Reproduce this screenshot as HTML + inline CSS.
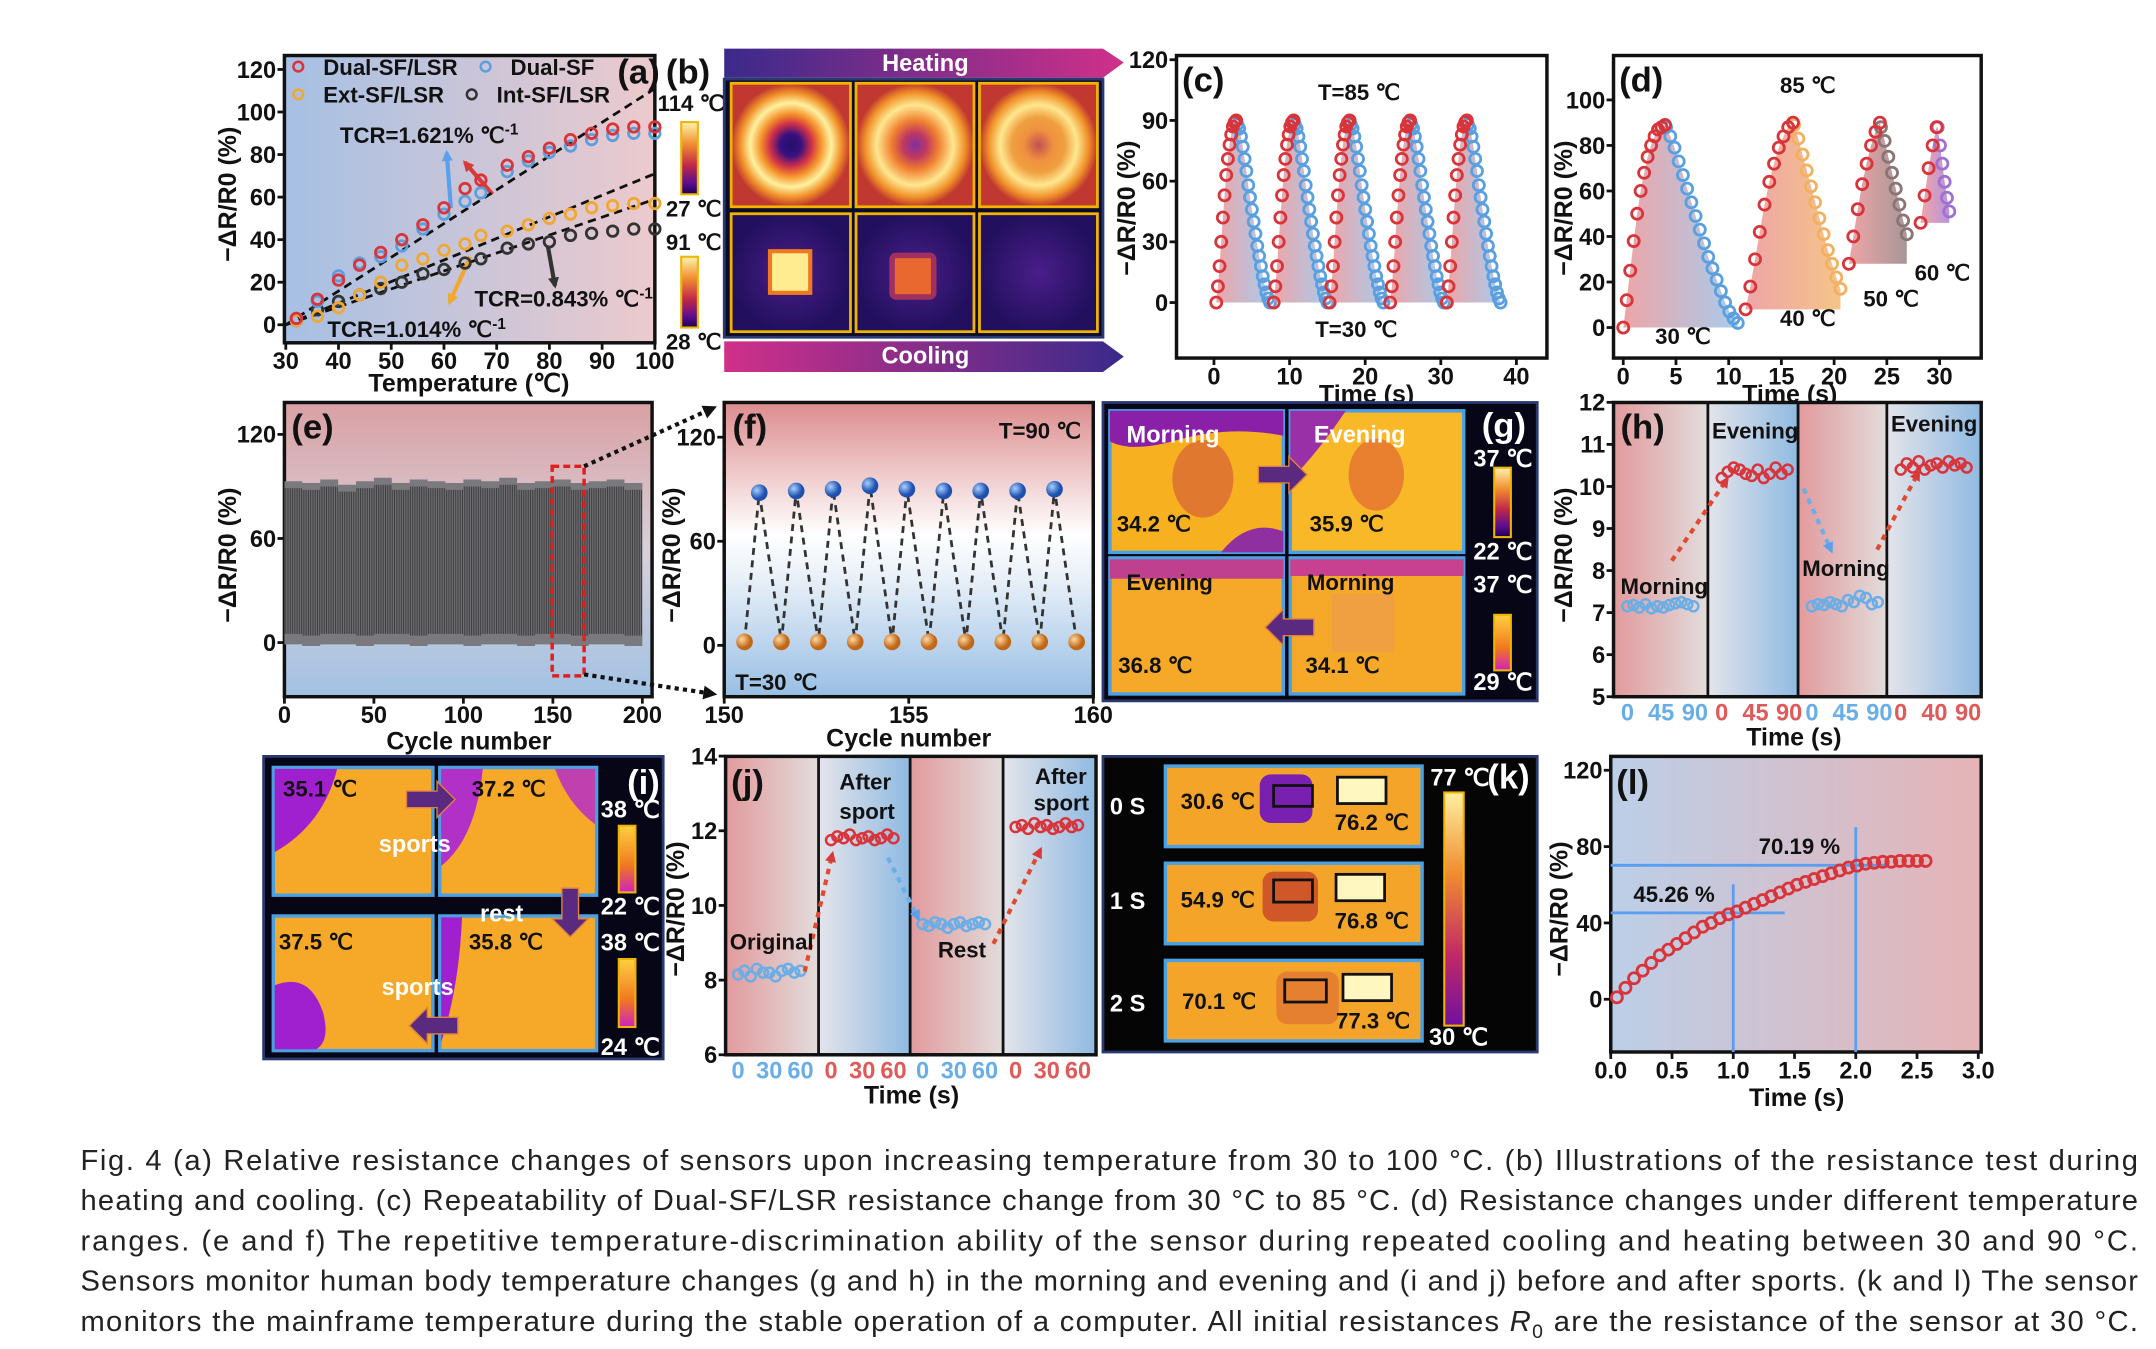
<!DOCTYPE html>
<html><head><meta charset="utf-8"><style>
html,body{margin:0;padding:0;background:#fff;}
svg{display:block;}
text{font-family:"Liberation Sans",sans-serif;}
.tk{font-size:17px;font-weight:bold;fill:#111;}
.ti{font-size:18px;font-weight:bold;fill:#111;}
.pl{font-size:25px;font-weight:bold;fill:#111;}
.lb{font-size:16px;font-weight:bold;fill:#111;}
.wl{font-size:17px;font-weight:bold;fill:#fff;}
.cap{font-size:21px;fill:#222;}
</style></head><body>
<svg id="fig" xmlns="http://www.w3.org/2000/svg" width="2156" height="1349" viewBox="0 0 1554 972" preserveAspectRatio="none">
<defs>
 <linearGradient id="gA" x1="0" x2="1" y1="0" y2="0"><stop offset="0" stop-color="#a6c0e4"/><stop offset="1" stop-color="#eccacd"/></linearGradient>
 <linearGradient id="gL" x1="0" x2="1" y1="0" y2="0"><stop offset="0" stop-color="#bccfe8"/><stop offset="1" stop-color="#e6b3b6"/></linearGradient>
 <linearGradient id="gE" x1="0" x2="0" y1="0" y2="1"><stop offset="0" stop-color="#d9a0a4"/><stop offset="0.5" stop-color="#d8d0d8"/><stop offset="1" stop-color="#a2c2e4"/></linearGradient>
 <linearGradient id="gF" x1="0" x2="0" y1="0" y2="1"><stop offset="0" stop-color="#dc8c8e"/><stop offset="0.45" stop-color="#ffffff"/><stop offset="0.6" stop-color="#e8f0f8"/><stop offset="1" stop-color="#98bee4"/></linearGradient>
 <linearGradient id="gPink" x1="0" x2="1"><stop offset="0" stop-color="#e29a9c"/><stop offset="1" stop-color="#e2dcdc"/></linearGradient>
 <linearGradient id="gBlue" x1="0" x2="1"><stop offset="0" stop-color="#e4e4ea"/><stop offset="1" stop-color="#8fbae2"/></linearGradient>
 <linearGradient id="gFill" x1="0" x2="1"><stop offset="0" stop-color="#e8878a" stop-opacity="0.75"/><stop offset="1" stop-color="#86b4e2" stop-opacity="0.7"/></linearGradient>
 <linearGradient id="gFillO" x1="0" x2="1"><stop offset="0" stop-color="#e8878a" stop-opacity="0.75"/><stop offset="1" stop-color="#f2b060" stop-opacity="0.75"/></linearGradient>
 <linearGradient id="gFillG" x1="0" x2="1"><stop offset="0" stop-color="#e8878a" stop-opacity="0.75"/><stop offset="1" stop-color="#8a7474" stop-opacity="0.75"/></linearGradient>
 <linearGradient id="gFillP" x1="0" x2="1"><stop offset="0" stop-color="#e8878a" stop-opacity="0.75"/><stop offset="1" stop-color="#a070d0" stop-opacity="0.75"/></linearGradient>
 <linearGradient id="gHeat" x1="0" x2="1"><stop offset="0" stop-color="#3a2a8a"/><stop offset="1" stop-color="#d0308a"/></linearGradient>
 <linearGradient id="gCool" x1="0" x2="1"><stop offset="0" stop-color="#d0308a"/><stop offset="1" stop-color="#3a2a8a"/></linearGradient>
 <linearGradient id="gCB" x1="0" x2="0" y1="0" y2="1"><stop offset="0" stop-color="#fff4b0"/><stop offset="0.3" stop-color="#f09030"/><stop offset="0.6" stop-color="#c02848"/><stop offset="0.85" stop-color="#5a0c90"/><stop offset="1" stop-color="#1a0050"/></linearGradient>
 <linearGradient id="gCB2" x1="0" x2="0" y1="0" y2="1"><stop offset="0" stop-color="#ffd040"/><stop offset="0.6" stop-color="#f07820"/><stop offset="1" stop-color="#d020c0"/></linearGradient>
 <linearGradient id="gCBk" x1="0" x2="0" y1="0" y2="1"><stop offset="0" stop-color="#fff0a0"/><stop offset="0.35" stop-color="#f08c30"/><stop offset="0.7" stop-color="#c02868"/><stop offset="1" stop-color="#7010a0"/></linearGradient>
 <radialGradient id="rOval1"><stop offset="0" stop-color="#20106a"/><stop offset="0.18" stop-color="#3a1080"/><stop offset="0.35" stop-color="#d03048"/><stop offset="0.5" stop-color="#f49028"/><stop offset="0.68" stop-color="#fff2a0"/><stop offset="0.85" stop-color="#f09028"/><stop offset="1" stop-color="#c03830"/></radialGradient>
 <radialGradient id="rOval2"><stop offset="0" stop-color="#8030a0"/><stop offset="0.2" stop-color="#c03860"/><stop offset="0.4" stop-color="#f08030"/><stop offset="0.65" stop-color="#ffe890"/><stop offset="0.85" stop-color="#f09028"/><stop offset="1" stop-color="#c03830"/></radialGradient>
 <radialGradient id="rOval3"><stop offset="0" stop-color="#c05050"/><stop offset="0.25" stop-color="#f09040"/><stop offset="0.45" stop-color="#f0a040"/><stop offset="0.65" stop-color="#ffe890"/><stop offset="0.85" stop-color="#f09028"/><stop offset="1" stop-color="#c03830"/></radialGradient>
 <radialGradient id="rDark"><stop offset="0" stop-color="#4a1e8a"/><stop offset="1" stop-color="#22105e"/></radialGradient>
 <radialGradient id="rBlue" cx="0.35" cy="0.35"><stop offset="0" stop-color="#a8d0ff"/><stop offset="1" stop-color="#1e50b0"/></radialGradient>
 <radialGradient id="rOr" cx="0.35" cy="0.35"><stop offset="0" stop-color="#ffd8a0"/><stop offset="1" stop-color="#c06818"/></radialGradient>
 <marker id="mR" markerWidth="8" markerHeight="8" refX="6" refY="4" orient="auto" markerUnits="userSpaceOnUse"><path d="M0,0 L8,4 L0,8 Z" fill="#d83a3a"/></marker>
 <marker id="mB" markerWidth="8" markerHeight="8" refX="6" refY="4" orient="auto" markerUnits="userSpaceOnUse"><path d="M0,0 L8,4 L0,8 Z" fill="#5aa0ec"/></marker>
 <marker id="mO" markerWidth="8" markerHeight="8" refX="6" refY="4" orient="auto" markerUnits="userSpaceOnUse"><path d="M0,0 L8,4 L0,8 Z" fill="#f0a830"/></marker>
 <marker id="mK" markerWidth="8" markerHeight="8" refX="6" refY="4" orient="auto" markerUnits="userSpaceOnUse"><path d="M0,0 L8,4 L0,8 Z" fill="#333"/></marker>
 <marker id="mD" markerWidth="10" markerHeight="10" refX="7" refY="5" orient="auto" markerUnits="userSpaceOnUse"><path d="M0,0 L10,5 L0,10 Z" fill="#111"/></marker>
</defs>

<g id="pa">
 <rect x="205" y="40" width="267" height="207" fill="url(#gA)" stroke="#111" stroke-width="2.5"/>
 <text x="170" y="140" class="ti" transform="rotate(-90 170 140)" text-anchor="middle">−ΔR/R0 (%)</text>
 <text x="338" y="282" class="ti" text-anchor="middle">Temperature (℃)</text>
 <text x="445" y="60" class="pl">(a)</text>
 <g class="lb">
  <circle cx="215" cy="48" r="3.5" fill="none" stroke="#d8343a" stroke-width="1.8"/><text x="233" y="54">Dual-SF/LSR</text>
  <circle cx="350" cy="48" r="3.5" fill="none" stroke="#5aa0e0" stroke-width="1.8"/><text x="368" y="54">Dual-SF</text>
  <circle cx="215" cy="68" r="3.5" fill="none" stroke="#f0a830" stroke-width="1.8"/><text x="233" y="74">Ext-SF/LSR</text>
  <circle cx="340" cy="68" r="3.5" fill="none" stroke="#333" stroke-width="1.8"/><text x="358" y="74">Int-SF/LSR</text>
 </g>
 <text x="245" y="103" class="lb">TCR=1.621% ℃<tspan dy="-6" font-size="11">-1</tspan></text>
 <text x="342" y="221" class="lb">TCR=0.843% ℃<tspan dy="-6" font-size="11">-1</tspan></text>
 <text x="236" y="243" class="lb">TCR=1.014% ℃<tspan dy="-6" font-size="11">-1</tspan></text>
 <line x1="325" y1="150" x2="322" y2="110" stroke="#5aa0ec" stroke-width="3" marker-end="url(#mB)"/>
 <line x1="355" y1="140" x2="335" y2="117" stroke="#d83a3a" stroke-width="3" marker-end="url(#mR)"/>
 <line x1="339" y1="185" x2="324" y2="218" stroke="#f0a830" stroke-width="3" marker-end="url(#mO)"/>
 <line x1="395" y1="178" x2="400" y2="206" stroke="#333" stroke-width="3" marker-end="url(#mK)"/>
 <g id="aMarks"></g>
</g>

<g>
 <path d="M522,35 L795,35 L810,45 L795,56 L522,56 Z" fill="url(#gHeat)"/>
 <text x="667" y="51" text-anchor="middle" class="wl" font-size="15">Heating</text>
 <path d="M522,246 L795,246 L810,257 L795,268 L522,268 Z" fill="url(#gCool)"/>
 <text x="667" y="262" text-anchor="middle" class="wl" font-size="15">Cooling</text>
 <rect x="522" y="57" width="273" height="186" fill="#0a0a2a" stroke="#2a3a70" stroke-width="2"/>
 <rect x="527" y="60" width="86" height="89" fill="url(#rOval1)" stroke="#f0b400" stroke-width="2"/>
 <rect x="617" y="60" width="85" height="89" fill="url(#rOval2)" stroke="#f0b400" stroke-width="2"/>
 <rect x="706" y="60" width="85" height="89" fill="url(#rOval3)" stroke="#f0b400" stroke-width="2"/>
 <rect x="527" y="154" width="86" height="85" fill="url(#rDark)" stroke="#f0b400" stroke-width="2"/>
 <rect x="555" y="181" width="29" height="30" fill="#ffec90" stroke="#f07820" stroke-width="3"/>
 <rect x="617" y="154" width="85" height="85" fill="url(#rDark)" stroke="#f0b400" stroke-width="2"/>
 <rect x="643" y="184" width="30" height="30" fill="#e86830" stroke="#a03060" stroke-width="4" rx="3"/>
 <rect x="706" y="154" width="85" height="85" fill="url(#rDark)" stroke="#f0b400" stroke-width="2"/>
 <rect x="491" y="88" width="12" height="52" fill="url(#gCB)" stroke="#f0b400" stroke-width="1.5"/>
 <rect x="491" y="185" width="12" height="51" fill="url(#gCB)" stroke="#f0b400" stroke-width="1.5"/>
 <text x="474" y="80" class="lb" font-size="15">114 ℃</text>
 <text x="480" y="156" class="lb" font-size="15">27 ℃</text>
 <text x="480" y="180" class="lb" font-size="15">91 ℃</text>
 <text x="480" y="252" class="lb" font-size="15">28 ℃</text>
 <text x="480" y="60" class="pl">(b)</text>
</g>

<g>
 <rect x="848" y="40" width="267" height="218" fill="#fff" stroke="#111" stroke-width="2.5"/>
 <g id="cMarks"></g>
 <text x="852" y="66" class="pl">(c)</text>
 <text x="950" y="72" class="lb">T=85 ℃</text>
 <text x="948" y="243" class="lb">T=30 ℃</text>
 <text x="818" y="150" class="ti" transform="rotate(-90 818 150)" text-anchor="middle">−ΔR/R0 (%)</text>
 <text x="985" y="290" class="ti" text-anchor="middle">Time (s)</text>
</g>

<g>
 <rect x="1163" y="40" width="265" height="218" fill="#fff" stroke="#111" stroke-width="2.5"/>
 <g id="dMarks"></g>
 <text x="1167" y="66" class="pl">(d)</text>
 <text x="1283" y="67" class="lb">85 ℃</text>
 <text x="1193" y="248" class="lb">30 ℃</text>
 <text x="1283" y="235" class="lb">40 ℃</text>
 <text x="1343" y="221" class="lb">50 ℃</text>
 <text x="1380" y="202" class="lb">60 ℃</text>
 <text x="1133" y="150" class="ti" transform="rotate(-90 1133 150)" text-anchor="middle">−ΔR/R0 (%)</text>
 <text x="1290" y="290" class="ti" text-anchor="middle">Time (s)</text>
</g>

<g>
 <rect x="205" y="290" width="265" height="212" fill="url(#gE)" stroke="#111" stroke-width="2.5"/>
 <g id="eMarks"></g>
 <rect x="398" y="336" width="23" height="151" fill="none" stroke="#e02020" stroke-width="2.5" stroke-dasharray="5,3"/>
 <line x1="421" y1="336" x2="514" y2="294" stroke="#111" stroke-width="3" stroke-dasharray="3,3" marker-end="url(#mD)"/>
 <line x1="421" y1="486" x2="514" y2="500" stroke="#111" stroke-width="3" stroke-dasharray="3,3" marker-end="url(#mD)"/>
 <text x="210" y="316" class="pl">(e)</text>
 <text x="170" y="400" class="ti" transform="rotate(-90 170 400)" text-anchor="middle">−ΔR/R0 (%)</text>
 <text x="338" y="540" class="ti" text-anchor="middle">Cycle number</text>
</g>

<g>
 <rect x="522" y="290" width="266" height="212" fill="url(#gF)" stroke="#111" stroke-width="2.5"/>
 <g id="fMarks"></g>
 <text x="528" y="316" class="pl">(f)</text>
 <text x="720" y="316" class="lb">T=90 ℃</text>
 <text x="530" y="497" class="lb">T=30 ℃</text>
 <text x="490" y="400" class="ti" transform="rotate(-90 490 400)" text-anchor="middle">−ΔR/R0 (%)</text>
 <text x="655" y="538" class="ti" text-anchor="middle">Cycle number</text>
</g>

<g>
 <rect x="795" y="290" width="313" height="215" fill="#060616" stroke="#2a3a70" stroke-width="2"/>
 <rect x="800" y="296" width="125" height="102" fill="#f6b020" stroke="#4aa0e0" stroke-width="2.5"/>
 <path d="M800,296 h125 v18 q-40,-8 -80,4 q-30,8 -45,0 z" fill="#8a20a8"/>
 <ellipse cx="867" cy="345" rx="22" ry="28" fill="#e07830"/>
 <path d="M880,398 q20,-25 45,-15 v15 z" fill="#9030a0"/>
 <rect x="930" y="296" width="125" height="102" fill="#f8b828" stroke="#4aa0e0" stroke-width="2.5"/>
 <path d="M930,296 h40 q-20,30 -40,50 z" fill="#9a30a8"/>
 <ellipse cx="992" cy="342" rx="20" ry="26" fill="#e88030"/>
 <rect x="800" y="402" width="125" height="98" fill="#f6a828" stroke="#4aa0e0" stroke-width="2.5"/>
 <rect x="800" y="403" width="125" height="14" fill="#c04090"/>
 <rect x="930" y="402" width="125" height="98" fill="#f6a828" stroke="#4aa0e0" stroke-width="2.5"/>
 <rect x="930" y="403" width="125" height="12" fill="#c84090"/>
 <rect x="960" y="428" width="45" height="42" fill="#f0a040"/>
 <path d="M907,336 h22 v-7 l13,13 l-13,13 v-7 h-22 z" fill="#5a2a80" stroke="#e08040" stroke-width="1"/>
 <path d="M947,446 h-22 v-7 l-13,13 l13,13 v-7 h22 z" fill="#5a2a80" stroke="#e08040" stroke-width="1"/>
 <text x="812" y="319" class="wl">Morning</text><text x="947" y="319" class="wl">Evening</text>
 <text x="812" y="425" class="lb" font-size="17">Evening</text><text x="942" y="425" class="lb" font-size="17">Morning</text>
 <text x="805" y="383" class="lb" font-size="16">34.2 ℃</text><text x="944" y="383" class="lb" font-size="16">35.9 ℃</text>
 <text x="806" y="485" class="lb" font-size="16">36.8 ℃</text><text x="941" y="485" class="lb" font-size="16">34.1 ℃</text>
 <rect x="1077" y="337" width="12" height="50" fill="url(#gCB)" stroke="#f0b400" stroke-width="1.5"/>
 <rect x="1077" y="443" width="12" height="40" fill="url(#gCB2)" stroke="#f0b400" stroke-width="1.5"/>
 <text x="1062" y="336" class="wl" font-size="15">37 ℃</text><text x="1062" y="403" class="wl" font-size="15">22 ℃</text>
 <text x="1062" y="427" class="wl" font-size="15">37 ℃</text><text x="1062" y="497" class="wl" font-size="15">29 ℃</text>
 <text x="1068" y="315" class="pl" style="fill:#fff">(g)</text>
</g>

<g>
 <rect x="1163" y="290" width="68" height="212" fill="url(#gPink)"/>
 <rect x="1231" y="290" width="65" height="212" fill="url(#gBlue)"/>
 <rect x="1296" y="290" width="64" height="212" fill="url(#gPink)"/>
 <rect x="1360" y="290" width="68" height="212" fill="url(#gBlue)"/>
 <g stroke="#111" stroke-width="2"><line x1="1231" y1="290" x2="1231" y2="502"/><line x1="1296" y1="290" x2="1296" y2="502"/><line x1="1360" y1="290" x2="1360" y2="502"/></g>
 <rect x="1163" y="290" width="265" height="212" fill="none" stroke="#111" stroke-width="2.5"/>
 <g id="hMarks"></g>
 <line x1="1205" y1="404" x2="1245" y2="345" stroke="#e04a30" stroke-width="3" stroke-dasharray="4,4" marker-end="url(#mR)"/>
 <line x1="1300" y1="352" x2="1320" y2="397" stroke="#6aaee8" stroke-width="3" stroke-dasharray="4,4" marker-end="url(#mB)"/>
 <line x1="1353" y1="396" x2="1383" y2="340" stroke="#e04a30" stroke-width="3" stroke-dasharray="4,4" marker-end="url(#mR)"/>
 <text x="1168" y="316" class="pl">(h)</text>
 <text x="1168" y="428" class="lb" font-size="15">Morning</text>
 <text x="1234" y="316" class="lb" font-size="15">Evening</text>
 <text x="1299" y="415" class="lb" font-size="15">Morning</text>
 <text x="1363" y="311" class="lb" font-size="15">Evening</text>
 <text x="1133" y="400" class="ti" transform="rotate(-90 1133 400)" text-anchor="middle">−ΔR/R0 (%)</text>
 <text x="1293" y="537" class="ti" text-anchor="middle">Time (s)</text>
</g>

<g>
 <rect x="190" y="545" width="288" height="218" fill="#060616" stroke="#2a3a70" stroke-width="2"/>
 <rect x="197" y="553" width="115" height="92" fill="#f6a828" stroke="#4aa0e0" stroke-width="2.5"/>
 <path d="M198,554 h45 q-10,40 -45,60 z" fill="#a020d0"/>
 <rect x="317" y="553" width="113" height="92" fill="#f6a828" stroke="#4aa0e0" stroke-width="2.5"/>
 <path d="M318,554 h30 q-5,50 -30,70 z" fill="#b030c8"/>
 <path d="M400,554 h29 v40 q-20,-15 -29,-40 z" fill="#c040b0"/>
 <rect x="197" y="660" width="115" height="97" fill="#f6a828" stroke="#4aa0e0" stroke-width="2.5"/>
 <path d="M198,710 q25,-10 35,20 q5,20 -5,26 h-30 z" fill="#a020d0"/>
 <rect x="317" y="660" width="113" height="97" fill="#f6a828" stroke="#4aa0e0" stroke-width="2.5"/>
 <path d="M318,661 h15 q-2,50 -15,90 z" fill="#a020d0"/>
 <path d="M293,570 h22 v-7 l13,13 l-13,13 v-7 h-22 z" fill="#5a2a80" stroke="#e08040" stroke-width="1"/>
 <path d="M405,640 v22 h-7 l13,13 l13,-13 h-7 v-22 z" fill="#5a2a80" stroke="#e08040" stroke-width="1"/>
 <path d="M330,733 h-22 v-7 l-13,13 l13,13 v-7 h22 z" fill="#5a2a80" stroke="#e08040" stroke-width="1"/>
 <text x="204" y="574" class="lb">35.1 ℃</text><text x="340" y="574" class="lb">37.2 ℃</text>
 <text x="201" y="684" class="lb">37.5 ℃</text><text x="338" y="684" class="lb">35.8 ℃</text>
 <text x="273" y="614" class="wl" font-size="22">sports</text>
 <text x="275" y="717" class="wl" font-size="22">sports</text>
 <text x="346" y="664" class="wl" font-size="22">rest</text>
 <rect x="446" y="595" width="12" height="48" fill="url(#gCB2)" stroke="#f0b400" stroke-width="1.5"/>
 <rect x="446" y="691" width="12" height="49" fill="url(#gCB2)" stroke="#f0b400" stroke-width="1.5"/>
 <text x="433" y="589" class="wl" font-size="15">38 ℃</text><text x="433" y="659" class="wl" font-size="15">22 ℃</text>
 <text x="433" y="685" class="wl" font-size="15">38 ℃</text><text x="433" y="760" class="wl" font-size="15">24 ℃</text>
 <text x="452" y="572" class="pl" style="fill:#fff">(i)</text>
</g>

<g>
 <rect x="523" y="545" width="67" height="215" fill="url(#gPink)"/>
 <rect x="590" y="545" width="66" height="215" fill="url(#gBlue)"/>
 <rect x="656" y="545" width="67" height="215" fill="url(#gPink)"/>
 <rect x="723" y="545" width="67" height="215" fill="url(#gBlue)"/>
 <g stroke="#111" stroke-width="2"><line x1="590" y1="545" x2="590" y2="760"/><line x1="656" y1="545" x2="656" y2="760"/><line x1="723" y1="545" x2="723" y2="760"/></g>
 <rect x="523" y="545" width="267" height="215" fill="none" stroke="#111" stroke-width="2.5"/>
 <g id="jMarks"></g>
 <line x1="580" y1="700" x2="600" y2="615" stroke="#e04a30" stroke-width="3" stroke-dasharray="4,4" marker-end="url(#mR)"/>
 <line x1="640" y1="618" x2="662" y2="662" stroke="#6aaee8" stroke-width="3" stroke-dasharray="4,4" marker-end="url(#mB)"/>
 <line x1="716" y1="680" x2="750" y2="612" stroke="#e04a30" stroke-width="3" stroke-dasharray="4,4" marker-end="url(#mR)"/>
 <text x="527" y="572" class="pl">(j)</text>
 <text x="605" y="569" class="lb" font-size="15">After</text><text x="605" y="590" class="lb" font-size="15">sport</text>
 <text x="746" y="565" class="lb" font-size="15">After</text><text x="745" y="584" class="lb" font-size="15">sport</text>
 <text x="526" y="684" class="lb" font-size="15">Original</text>
 <text x="676" y="690" class="lb" font-size="15">Rest</text>
 <text x="493" y="655" class="ti" transform="rotate(-90 493 655)" text-anchor="middle">−ΔR/R0 (%)</text>
 <text x="657" y="795" class="ti" text-anchor="middle">Time (s)</text>
</g>

<g>
 <rect x="795" y="545" width="313" height="213" fill="#050505" stroke="#2a3a70" stroke-width="2"/>
 <rect x="840" y="552" width="185" height="58" fill="#f4a428" stroke="#4aa0e0" stroke-width="2.5"/>
 <rect x="908" y="558" width="38" height="35" rx="8" fill="#7a20b0"/><rect x="918" y="566" width="28" height="15" fill="none" stroke="#111" stroke-width="2"/>
 <rect x="964" y="560" width="35" height="19" fill="#fff6c0" stroke="#111" stroke-width="2"/>
 <rect x="840" y="622" width="185" height="58" fill="#f4a428" stroke="#4aa0e0" stroke-width="2.5"/>
 <rect x="910" y="628" width="40" height="36" rx="8" fill="#d05828"/><rect x="918" y="634" width="28" height="16" fill="none" stroke="#111" stroke-width="2"/>
 <rect x="963" y="630" width="35" height="19" fill="#fff6c0" stroke="#111" stroke-width="2"/>
 <rect x="840" y="692" width="185" height="58" fill="#f4a428" stroke="#4aa0e0" stroke-width="2.5"/>
 <rect x="920" y="700" width="45" height="38" rx="8" fill="#e48030"/><rect x="926" y="706" width="30" height="16" fill="none" stroke="#111" stroke-width="2"/>
 <rect x="968" y="702" width="35" height="19" fill="#fff6c0" stroke="#111" stroke-width="2"/>
 <text x="800" y="587" class="wl" font-size="19">0 S</text><text x="800" y="655" class="wl" font-size="19">1 S</text><text x="800" y="729" class="wl" font-size="19">2 S</text>
 <text x="851" y="583" class="lb">30.6 ℃</text><text x="962" y="598" class="lb">76.2 ℃</text>
 <text x="851" y="654" class="lb">54.9 ℃</text><text x="962" y="669" class="lb">76.8 ℃</text>
 <text x="852" y="727" class="lb">70.1 ℃</text><text x="963" y="741" class="lb">77.3 ℃</text>
 <rect x="1041" y="571" width="14" height="168" fill="url(#gCBk)" stroke="#f0b400" stroke-width="1.5"/>
 <text x="1031" y="566" class="wl" font-size="15">77 ℃</text><text x="1030" y="753" class="wl" font-size="15">30 ℃</text>
 <text x="1072" y="568" class="pl" style="fill:#fff">(k)</text>
</g>

<g>
 <rect x="1161" y="545" width="267" height="213" fill="url(#gL)" stroke="#111" stroke-width="2.5"/>
 <g id="lMarks"></g>
 <text x="1165" y="572" class="pl">(l)</text>
 <text x="1130" y="655" class="ti" transform="rotate(-90 1130 655)" text-anchor="middle">−ΔR/R0 (%)</text>
 <text x="1295" y="797" class="ti" text-anchor="middle">Time (s)</text>
</g>

<g>
 <text class="cap" x="58" y="843" textLength="1483" lengthAdjust="spacing">Fig. 4   (a) Relative resistance changes of sensors upon increasing temperature from 30 to 100 °C. (b) Illustrations of the resistance test during</text>
 <text class="cap" x="58" y="872" textLength="1483" lengthAdjust="spacing">heating and cooling. (c) Repeatability of Dual-SF/LSR resistance change from 30 °C to 85 °C. (d) Resistance changes under different temperature</text>
 <text class="cap" x="58" y="901" textLength="1483" lengthAdjust="spacing">ranges. (e and f) The repetitive temperature-discrimination ability of the sensor during repeated cooling and heating between 30 and 90 °C.</text>
 <text class="cap" x="58" y="930" textLength="1483" lengthAdjust="spacing">Sensors monitor human body temperature changes (g and h) in the morning and evening and (i and j) before and after sports. (k and l) The sensor</text>
 <text class="cap" x="58" y="959" textLength="1483" lengthAdjust="spacing">monitors the mainframe temperature during the stable operation of a computer. All initial resistances <tspan font-style="italic">R</tspan><tspan font-size="14" dy="5">0</tspan><tspan dy="-5"> are the resistance of the sensor at 30 °C.</tspan></text>
 <rect x="58" y="976" width="1483" height="4" fill="#e2dfd6"/>
</g>
</svg>

<script>
const NS='http://www.w3.org/2000/svg';
const aTemps=[32,36,40,44,48,52,56,60,64,67,72,76,80,84,88,92,96,100];
const aDualLSR=[3,12,21,28,34,40,47,55,64,68,75,79,83,87,90,92,93,93];
const aDualSF=[3,11,23,29,32,37,45,52,58,62,72,77,81,84,87,89,90,90];
const aExt=[2,4,8,14,20,28,31,35,38,42,44,47,50,52,55,56,57,57];
const aInt=[2,7,11,14,17,20,24,26,29,31,36,38,39,42,43,44,45,45];
const aFitEnd=[111,71,59];
const aXTicks=[30,40,50,60,70,80,90,100];
const aYTicks=[0,20,40,60,80,100,120];

const cStarts=[0.3,7.9,15.3,23.3,30.8];
const cRise=[0,8,18,30,42,53,63,71,78,83,87,89,90];
const cFall=[88,86,82,77,71,65,58,52,46,40,34,28,23,18,13,9,5,2,0];
const cXTicks=[0,10,20,30,40];
const cYTicks=[0,30,60,90,120];

const dStarts=[0,11.6,21.4,28.2];
const dRise1=[0,12,25,38,50,60,68,75,80,84,87,88,89];
const dRise2=[8,18,30,42,54,64,72,79,84,88,90];
const dRise3=[28,40,52,63,72,80,86,90];
const dRise4=[46,58,70,80,88];
const dFall1=[88,84,79,73,67,61,55,49,43,37,31,26,21,16,11,7,4,2];
const dFall2=[89,83,76,69,62,55,48,41,34,28,22,17];
const dFall3=[88,82,75,68,61,54,47,41];
const dFall4=[88,80,72,64,57,51];
const dRiseDt=[0.33,0.45,0.42,0.38];
const dFallDt=[0.4,0.4,0.35,0.22];
const dXTicks=[0,5,10,15,20,25,30];
const dYTicks=[0,20,40,60,80,100];

const ePeaks=[93,92,94,91,93,95,92,94,93,92,94,93,95,92,93,94,92,93,94,92];
const eTroughs=[-1,-2,-1,-1,-2,-1,-1,-2,-1,-1,-2,-1,-1,-2,-1,-1,-2,-1,-1,-2];
const eXTicks=[0,50,100,150,200];
const eYTicks=[0,60,120];

const fHeatX=[150.95,151.95,152.95,153.95,154.95,155.95,156.95,157.95,158.95];
const fHeatV=[88,89,90,92,90,89,89,89,90];
const fCoolX=[150.55,151.55,152.55,153.55,154.55,155.55,156.55,157.55,158.55,159.55];
const fCoolV=[2,2,2,2,2,2,2,2,2,2];
const fXTicks=[150,155,160];
const fYTicks=[0,60,120];

const hTimes=[0,8,16,24,32,40,48,56,64,72,80,88];
const hMorning1=[7.15,7.18,7.12,7.2,7.1,7.15,7.12,7.18,7.22,7.25,7.2,7.15];
const hEvening1=[10.2,10.35,10.45,10.4,10.3,10.25,10.4,10.2,10.3,10.45,10.3,10.4];
const hMorning2=[7.15,7.2,7.18,7.25,7.2,7.15,7.3,7.25,7.4,7.35,7.2,7.25];
const hEvening2=[10.4,10.55,10.45,10.6,10.4,10.5,10.55,10.45,10.6,10.5,10.55,10.45];
const hYTicks=[5,6,7,8,9,10,11,12];
const hXTicks=['0','45','90','0','45','90','0','45','90','0','40','90'];

const jTimes=[0,6,12,18,24,30,36,42,48,54,60];
const jOriginal=[8.15,8.25,8.1,8.3,8.2,8.2,8.1,8.25,8.3,8.2,8.25];
const jAfter1=[11.75,11.85,11.8,11.9,11.75,11.8,11.85,11.75,11.8,11.9,11.8];
const jRest=[9.5,9.45,9.55,9.5,9.4,9.5,9.55,9.45,9.5,9.55,9.5];
const jAfter2=[12.1,12.15,12.05,12.2,12.1,12.15,12.05,12.1,12.2,12.1,12.15];
const jYTicks=[6,8,10,12,14];
const jXTicks=['0','30','60','0','30','60','0','30','60','0','30','60'];

const lTimes=[0.05,0.12,0.19,0.26,0.33,0.40,0.47,0.54,0.61,0.68,0.75,0.82,0.89,0.96,1.03,1.10,1.17,1.24,1.31,1.38,1.45,1.52,1.59,1.66,1.73,1.80,1.87,1.94,2.01,2.08,2.15,2.22,2.29,2.36,2.43,2.50,2.57];
const lValues=[1,6,11,15,19,23,26,29,32,35,38,40,42.5,44.5,46,48,50,52,54,56,58,60,61.5,63,64.5,66,67.5,69,70,71,71.5,72,72,72.5,72.5,72.5,72.5];
const lMarks=[[1.0,45.26],[2.0,70.19]];
const lXTicks=[0,0.5,1.0,1.5,2.0,2.5,3.0];
const lYTicks=[0,40,80,120];

function mk(tag,attrs,parent){const e=document.createElementNS(NS,tag);for(const k in attrs)e.setAttribute(k,attrs[k]);parent.appendChild(e);return e;}
function ring(g,x,y,col,name,r,sw){
  const c=mk('circle',{cx:x,cy:y,r:r||3.5,fill:'none',stroke:col,'stroke-width':sw||1.8},g);
  
  
  return c;
}
function tickText(g,x,y,txt,anchor,col){
  const t=mk('text',{x:x,y:y,'text-anchor':anchor,class:'tk'},g);
  if(col)t.setAttribute('style','fill:'+col);
  t.textContent=txt;
  
  
  return t;
}
function tickMark(g,x1,y1,x2,y2){mk('line',{x1:x1,y1:y1,x2:x2,y2:y2,stroke:'#111','stroke-width':2},g);}
function axes(g,xs,xf,xy,ys,yf,yx,fmt){
  xs.forEach(v=>{tickMark(g,xf(v),xy,xf(v),xy+5);tickText(g,xf(v),xy+19,fmt?fmt(v):String(v),'middle');});
  ys.forEach(v=>{tickMark(g,yx,yf(v),yx-5,yf(v));tickText(g,yx-6,yf(v)+6,String(v),'end');});
}

(function(){
  const g=document.getElementById('aMarks');
  const ax=t=>206+(t-30)*3.8, ay=v=>234-v*1.533;
  axes(g,aXTicks,ax,247,aYTicks,ay,205);
  aFitEnd.forEach((v,i)=>{
    const l=mk('line',{x1:ax(30),y1:ay(0),x2:ax(100),y2:ay(v),stroke:'#111','stroke-width':2,'stroke-dasharray':'6,4'},g);
    
    
  });
  [[aInt,'#333','point-int-sf-lsr'],[aExt,'#f0a830','point-ext-sf-lsr'],[aDualSF,'#5aa0e0','point-dual-sf'],[aDualLSR,'#d8343a','point-dual-sf-lsr']].forEach(s=>{
    s[0].forEach((v,i)=>ring(g,ax(aTemps[i]),ay(v),s[1],s[2],3.8,2));
  });
})();

(function(){
  const g=document.getElementById('cMarks');
  const cx=t=>875+t*5.45, cy=v=>218-v*1.458;
  axes(g,cXTicks,cx,258,cYTicks,cy,848);
  const rd=0.22, fd=0.24;
  cStarts.forEach(s=>{
    const pts=[];
    cRise.forEach((v,i)=>pts.push([s+i*rd,v]));
    const f0=s+(cRise.length-1)*rd+0.15;
    cFall.forEach((v,i)=>pts.push([f0+i*fd,v]));
    const poly=mk('polygon',{points:pts.map(p=>cx(p[0])+','+cy(p[1])).join(' ')+' '+cx(pts[pts.length-1][0])+','+cy(0)+' '+cx(s)+','+cy(0),fill:'url(#gFill)'},g);
    
    
    cFall.forEach((v,i)=>ring(g,cx(f0+i*fd),cy(v),'#5aa0e0','point-cooling',4,2));
    cRise.forEach((v,i)=>ring(g,cx(s+i*rd),cy(v),'#d8343a','point-heating',4,2));
  });
})();

(function(){
  const g=document.getElementById('dMarks');
  const dx=t=>1170+t*7.6, dy=v=>236-v*1.64;
  axes(g,dXTicks,dx,258,dYTicks,dy,1163);
  const rises=[dRise1,dRise2,dRise3,dRise4], falls=[dFall1,dFall2,dFall3,dFall4];
  const cols=['#5aa0e0','#f2b060','#8a7474','#a070d0'], fills=['url(#gFill)','url(#gFillO)','url(#gFillG)','url(#gFillP)'];
  dStarts.forEach((s,k)=>{
    const pts=[];
    rises[k].forEach((v,i)=>pts.push([s+i*dRiseDt[k],v]));
    const f0=s+(rises[k].length-1)*dRiseDt[k]+0.1;
    falls[k].forEach((v,i)=>pts.push([f0+i*dFallDt[k],v]));
    const last=pts[pts.length-1];
    const poly=mk('polygon',{points:pts.map(p=>dx(p[0])+','+dy(p[1])).join(' ')+' '+dx(last[0])+','+dy(Math.min(last[1],rises[k][0]))+' '+dx(s)+','+dy(rises[k][0]),fill:fills[k]},g);
    
    
    falls[k].forEach((v,i)=>ring(g,dx(f0+i*dFallDt[k]),dy(v),cols[k],'point-cooling',4,2));
    rises[k].forEach((v,i)=>ring(g,dx(s+i*dRiseDt[k]),dy(v),'#d8343a','point-heating',4,2));
  });
})();

(function(){
  const g=document.getElementById('eMarks');
  const ex=c=>205+c*1.29, ey=v=>463-v*1.25;
  axes(g,eXTicks,ex,502,eYTicks,ey,205);
  const top=[],bot=[];
  ePeaks.forEach((v,i)=>{top.push(ex(i*10)+','+ey(v));top.push(ex(i*10+10)+','+ey(v));});
  eTroughs.forEach((v,i)=>{bot.unshift(ex(i*10)+','+ey(v));bot.unshift(ex(i*10+10)+','+ey(v));});
  const band=mk('polygon',{points:top.concat(bot).join(' '),fill:'#7a7a7e'},g);
  
  
  for(let c=0;c<200;c++){
    const b=Math.floor(c/10);
    const ln=mk('line',{x1:ex(c+0.5),y1:ey(eTroughs[b]+6),x2:ex(c+0.5),y2:ey(ePeaks[b]-4),stroke:'#2e2e30','stroke-width':0.7,opacity:0.8},g);
    
    
  }
})();

(function(){
  const g=document.getElementById('fMarks');
  const fx=c=>522+(c-150)*26.6, fy=v=>465-v*1.25;
  axes(g,fXTicks,fx,502,fYTicks,fy,522);
  const seq=[];
  fCoolX.forEach((x,i)=>{seq.push([x,fCoolV[i]]);if(i<fHeatX.length)seq.push([fHeatX[i],fHeatV[i]]);});
  const p=mk('polyline',{points:seq.map(s=>fx(s[0])+','+fy(s[1])).join(' '),fill:'none',stroke:'#333','stroke-width':2,'stroke-dasharray':'5,4'},g);
  
  
  fHeatX.forEach((x,i)=>{
    const b=mk('circle',{cx:fx(x),cy:fy(fHeatV[i]),r:6,fill:'url(#rBlue)'},g);
    
    
  });
  fCoolX.forEach((x,i)=>{
    const b=mk('circle',{cx:fx(x),cy:fy(fCoolV[i]),r:6,fill:'url(#rOr)'},g);
    
    
  });
})();

(function(){
  const g=document.getElementById('hMarks');
  const hy=v=>502-(v-5)*30.3;
  const secs=[1163,1231,1296,1360];
  const hx=(k,t)=>secs[k]+10+t*0.54;
  hYTicks.forEach(v=>{tickMark(g,1163,hy(v),1158,hy(v));tickText(g,1157,hy(v)+6,String(v),'end');});
  hXTicks.forEach((s,i)=>{const k=Math.floor(i/3);const t=[0,45,90][i%3];tickText(g,hx(k,t),519,s,'middle',k%2===0?'#6aaee8':'#e05a5a');});
  [[hMorning1,'#6aaee8'],[hEvening1,'#d8343a'],[hMorning2,'#6aaee8'],[hEvening2,'#d8343a']].forEach((s,k)=>{
    s[0].forEach((v,i)=>ring(g,hx(k,hTimes[i]),hy(v),s[1],k%2?'point-evening':'point-morning',3.6,1.8));
  });
})();

(function(){
  const g=document.getElementById('jMarks');
  const jy=v=>760-(v-6)*26.9;
  const secs=[523,590,656,723];
  const jx=(k,t)=>secs[k]+9+t*0.75;
  jYTicks.forEach(v=>{tickMark(g,523,jy(v),518,jy(v));tickText(g,517,jy(v)+6,String(v),'end');});
  jXTicks.forEach((s,i)=>{const k=Math.floor(i/3);const t=[0,30,60][i%3];tickText(g,jx(k,t),777,s,'middle',k%2===0?'#6aaee8':'#e05a5a');});
  [[jOriginal,'#6aaee8'],[jAfter1,'#d8343a'],[jRest,'#6aaee8'],[jAfter2,'#d8343a']].forEach((s,k)=>{
    s[0].forEach((v,i)=>ring(g,jx(k,jTimes[i]),jy(v),s[1],'point-sport',3.6,1.8));
  });
})();

(function(){
  const g=document.getElementById('lMarks');
  const lx=t=>1161+t*88.3, ly=v=>720-v*1.375;
  axes(g,lXTicks,lx,758,lYTicks,ly,1161,v=>v.toFixed(1));
  lMarks.forEach(m=>{
    const h=mk('line',{x1:1161,y1:ly(m[1]),x2:lx(m[0]+(m[0]<1.5?0.42:0.25)),y2:ly(m[1]),stroke:'#5a9ef0','stroke-width':2},g);
    
    
    const v=mk('line',{x1:lx(m[0]),y1:ly(m[1]+(m[0]<1.5?15:20)),x2:lx(m[0]),y2:758,stroke:'#5a9ef0','stroke-width':2},g);
    
    
    const t=mk('text',{x:lx(m[0])-(m[0]<1.5?72:70),y:ly(m[1])-8,class:'lb'},g);
    t.textContent=m[1].toFixed(2)+' %';
    
    
  });
  lTimes.forEach((t,i)=>ring(g,lx(t),ly(lValues[i]),'#d8343a','point-response',4,2));
})();
</script>
</body></html>
